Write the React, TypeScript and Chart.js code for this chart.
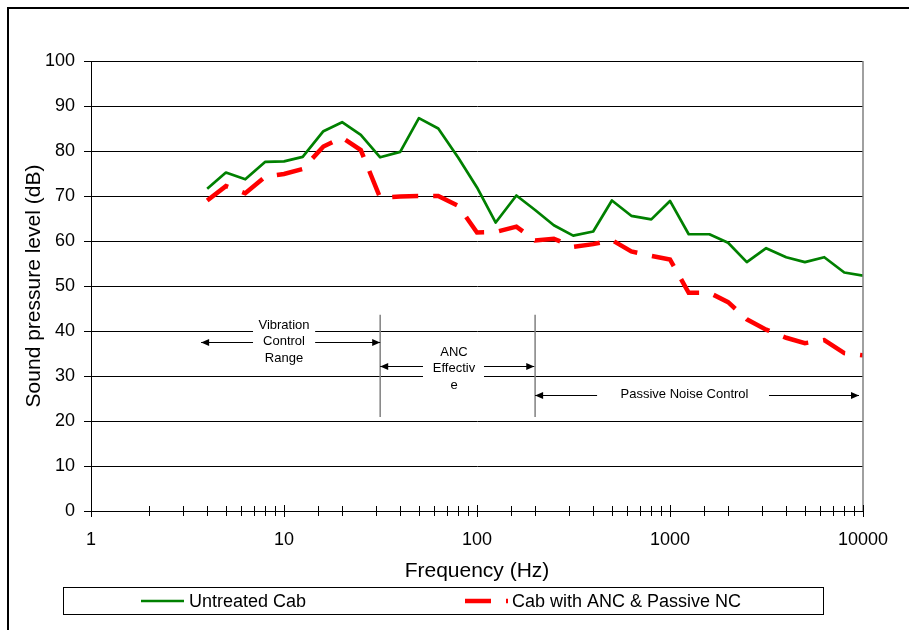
import React, { useEffect, useRef } from 'react';
import { Chart, registerables } from 'chart.js';

Chart.register(...registerables);

// ---- data ----
const frequencies = [4, 5, 6.3, 8, 10, 12.5, 16, 20, 25, 31.5, 40, 50, 63, 80, 100, 125, 160, 200, 250, 315, 400, 500, 630, 800, 1000, 1250, 1600, 2000, 2500, 3150, 4000, 5000, 6300, 8000, 10000];
const untreatedCab = [71.6, 75.2, 73.7, 77.6, 77.7, 78.7, 84.4, 86.4, 83.6, 78.6, 79.8, 87.3, 85.0, 78.5, 71.9, 64.1, 70.1, 66.9, 63.5, 61.2, 62.1, 69.0, 65.6, 64.8, 68.9, 61.5, 61.5, 59.6, 55.3, 58.4, 56.4, 55.3, 56.4, 53.0, 52.3];
const cabWithAncPassive = [69.0, 72.2, 70.6, 74.3, 74.9, 76.0, 81.0, 83.0, 80.2, 69.6, 69.9, 70.0, 70.0, 67.8, 61.9, 62.0, 63.2, 60.1, 60.5, 58.7, 59.3, 60.2, 57.7, 56.7, 55.9, 48.5, 48.5, 46.4, 42.6, 40.3, 38.5, 37.3, 38.0, 35.1, 34.6];
const seriesNames = ['Untreated Cab', 'Cab with ANC & Passive NC'];
const yTickValues = [0, 10, 20, 30, 40, 50, 60, 70, 80, 90, 100];
const xLabelValues = [1, 10, 100, 1000, 10000];
const xAxisTitle = 'Frequency (Hz)';
const yAxisTitle = 'Sound pressure level (dB)';

// region annotations (data coordinates: Hz, dB)
const regionBoundaries = [31.5, 200];
const boundarySpan = [20.9, 43.6];
const regionNotes = [
  { lines: ['Vibration', 'Control', 'Range'], textX: 10, textY: 37.6, arrowY: 37.6, arrowStart: 3.72, arrowEnd: 31.5, gapStart: 6.91, gapEnd: 14.5 },
  { lines: ['ANC', 'Effectiv', 'e'], textX: 76, textY: 31.6, arrowY: 32.3, arrowStart: 31.5, arrowEnd: 198, gapStart: 52.5, gapEnd: 108.7 },
  { lines: ['Passive Noise Control'], textX: 1189, textY: 25.8, arrowY: 25.8, arrowStart: 200, arrowEnd: 9534, gapStart: 419, gapEnd: 3258 },
];

const FONT = "'Liberation Sans', Arial, Helvetica, sans-serif";
const GREEN = '#008000';
const RED = '#ff0000';

function drawArrow(ctx: CanvasRenderingContext2D, fromX: number, toX: number, y: number) {
  ctx.beginPath();
  ctx.moveTo(fromX, y);
  ctx.lineTo(toX, y);
  ctx.stroke();
  const dir = Math.sign(toX - fromX);
  ctx.beginPath();
  ctx.moveTo(toX, y);
  ctx.lineTo(toX - dir * 8, y - 3.5);
  ctx.lineTo(toX - dir * 8, y + 3.5);
  ctx.closePath();
  ctx.fill();
}

const framePlugin = {
  id: 'frame',
  beforeDraw(chart: any) {
    const { ctx, width, height } = chart;
    ctx.save();
    ctx.fillStyle = '#ffffff';
    ctx.fillRect(0, 0, width, height);
    ctx.fillStyle = '#000000';
    ctx.fillRect(7, 7, 2, height - 7);
    ctx.fillRect(7, 7, width - 7, 2);
    ctx.restore();
  },
};

const axisDecorPlugin = {
  id: 'axisDecor',
  afterDraw(chart: any) {
    const { ctx, chartArea } = chart;
    const xs = chart.scales.x;
    ctx.save();
    ctx.strokeStyle = '#808080';
    ctx.lineWidth = 1.5;
    ctx.beginPath();
    ctx.moveTo(chartArea.right, chartArea.top);
    ctx.lineTo(chartArea.right, chartArea.bottom);
    ctx.stroke();
    ctx.strokeStyle = '#000000';
    ctx.lineWidth = 1;
    xs.ticks.forEach((t: any) => {
      const px = Math.round(xs.getPixelForValue(t.value)) + 0.5;
      const lg = Math.log10(t.value);
      const major = Math.abs(lg - Math.round(lg)) < 1e-9;
      const h = major ? 6 : 5;
      ctx.beginPath();
      ctx.moveTo(px, chartArea.bottom - h);
      ctx.lineTo(px, chartArea.bottom + h);
      ctx.stroke();
    });
    ctx.restore();
  },
};

const annotationPlugin = {
  id: 'regionNotes',
  afterDatasetsDraw(chart: any) {
    const { ctx } = chart;
    const xs = chart.scales.x;
    const ys = chart.scales.y;
    const lineGap = 16.6;
    ctx.save();
    regionNotes.forEach((a) => {
      const x0 = xs.getPixelForValue(a.gapStart);
      const x1 = xs.getPixelForValue(a.gapEnd);
      const cy = ys.getPixelForValue(a.textY);
      const h = a.lines.length * lineGap + 2;
      ctx.fillStyle = '#ffffff';
      ctx.fillRect(x0, cy - h / 2, x1 - x0, h);
    });
    ctx.strokeStyle = '#808080';
    ctx.lineWidth = 1.5;
    regionBoundaries.forEach((b) => {
      const px = xs.getPixelForValue(b);
      ctx.beginPath();
      ctx.moveTo(px, ys.getPixelForValue(boundarySpan[1]));
      ctx.lineTo(px, ys.getPixelForValue(boundarySpan[0]));
      ctx.stroke();
    });
    ctx.strokeStyle = '#000000';
    ctx.fillStyle = '#000000';
    ctx.lineWidth = 1;
    regionNotes.forEach((a) => {
      const ay = Math.round(ys.getPixelForValue(a.arrowY)) + 0.5;
      drawArrow(ctx, xs.getPixelForValue(a.gapStart), xs.getPixelForValue(a.arrowStart), ay);
      drawArrow(ctx, xs.getPixelForValue(a.gapEnd), xs.getPixelForValue(a.arrowEnd), ay);
    });
    ctx.font = `13px ${FONT}`;
    ctx.textAlign = 'center';
    ctx.textBaseline = 'middle';
    regionNotes.forEach((a) => {
      const cx = xs.getPixelForValue(a.textX);
      const cy = ys.getPixelForValue(a.textY);
      const n = a.lines.length;
      a.lines.forEach((ln, i) => {
        ctx.fillText(ln, cx, cy + (i - (n - 1) / 2) * lineGap);
      });
    });
    ctx.restore();
  },
};

const legendPlugin = {
  id: 'boxLegend',
  afterDraw(chart: any) {
    const { ctx } = chart;
    const ds = chart.data.datasets;
    ctx.save();
    ctx.strokeStyle = '#000000';
    ctx.lineWidth = 1;
    ctx.strokeRect(63.5, 587.5, 760, 27);
    const ly = 601;
    const items = [
      { lineX: 141, textX: 189 },
      { lineX: 465, textX: 512 },
    ];
    items.forEach((it, i) => {
      const d = ds[i];
      ctx.strokeStyle = d.borderColor;
      ctx.lineWidth = d.borderWidth;
      ctx.setLineDash(d.borderDash || []);
      ctx.lineCap = 'butt';
      ctx.beginPath();
      ctx.moveTo(it.lineX, ly);
      ctx.lineTo(it.lineX + 43, ly);
      ctx.stroke();
      ctx.setLineDash([]);
      ctx.fillStyle = '#000000';
      ctx.font = `18px ${FONT}`;
      ctx.textAlign = 'left';
      ctx.textBaseline = 'middle';
      ctx.fillText(d.label, it.textX, ly + 1);
    });
    ctx.restore();
  },
};

export default function App() {
  const canvasRef = useRef<HTMLCanvasElement | null>(null);

  useEffect(() => {
    document.body.style.margin = '0';
    const canvas = canvasRef.current;
    if (!canvas) return;
    const chart = new Chart(canvas, {
      type: 'line',
      data: {
        datasets: [
          {
            label: seriesNames[0],
            data: frequencies.map((f, i) => ({ x: f, y: untreatedCab[i] })),
            borderColor: GREEN,
            backgroundColor: GREEN,
            borderWidth: 2.7,
            pointRadius: 0,
            tension: 0,
            fill: false,
            borderJoinStyle: 'round',
          },
          {
            label: seriesNames[1],
            data: frequencies.map((f, i) => ({ x: f, y: cabWithAncPassive[i] })),
            borderColor: RED,
            backgroundColor: RED,
            borderWidth: 4.5,
            borderDash: [26, 15],
            borderCapStyle: 'butt',
            pointRadius: 0,
            tension: 0,
            fill: false,
          },
        ] as any,
      },
      options: {
        responsive: false,
        devicePixelRatio: 1,
        animation: false,
        layout: { padding: { left: 0, top: 61, right: 46, bottom: 34 } },
        plugins: {
          legend: { display: false },
          tooltip: { enabled: false },
        },
        scales: {
          x: {
            type: 'logarithmic',
            min: 1,
            max: 10000,
            grid: { display: false, drawTicks: false },
            border: { display: true, color: '#000000', width: 1 },
            ticks: {
              autoSkip: false,
              maxRotation: 0,
              minRotation: 0,
              padding: 18,
              color: '#000000',
              font: { family: FONT, size: 18 },
              callback: (value: any) => {
                const v = Number(value);
                return xLabelValues.some((l) => Math.abs(l - v) < 1e-6) ? String(v) : '';
              },
            },
            title: {
              display: true,
              text: xAxisTitle,
              color: '#000000',
              font: { family: FONT, size: 21 },
              padding: { top: 0, bottom: 12 },
            },
            afterFit: (scale: any) => {
              scale.height = 85;
              scale.paddingLeft = 0;
              scale.paddingRight = 0;
            },
          },
          y: {
            type: 'linear',
            min: 0,
            max: 100,
            afterBuildTicks: (scale: any) => {
              scale.ticks = yTickValues.map((v) => ({ value: v }));
            },
            grid: { color: '#000000', lineWidth: 1, drawTicks: true, tickLength: 7 },
            border: { display: true, color: '#000000', width: 1 },
            ticks: {
              padding: 9,
              color: '#000000',
              font: { family: FONT, size: 18 },
            },
            title: {
              display: true,
              text: yAxisTitle,
              color: '#000000',
              font: { family: FONT, size: 21 },
              padding: { top: 22, bottom: 0 },
            },
            afterFit: (scale: any) => {
              scale.width = 91;
              scale.paddingTop = 0;
              scale.paddingBottom = 0;
            },
          },
        },
      } as any,
      plugins: [framePlugin, annotationPlugin, axisDecorPlugin, legendPlugin],
    });
    return () => chart.destroy();
  }, []);

  return (
    <div style={{ position: 'absolute', left: 0, top: 0, width: 909, height: 630 }}>
      <canvas ref={canvasRef} width={909} height={630} style={{ display: 'block', width: 909, height: 630 }} />
    </div>
  );
}
